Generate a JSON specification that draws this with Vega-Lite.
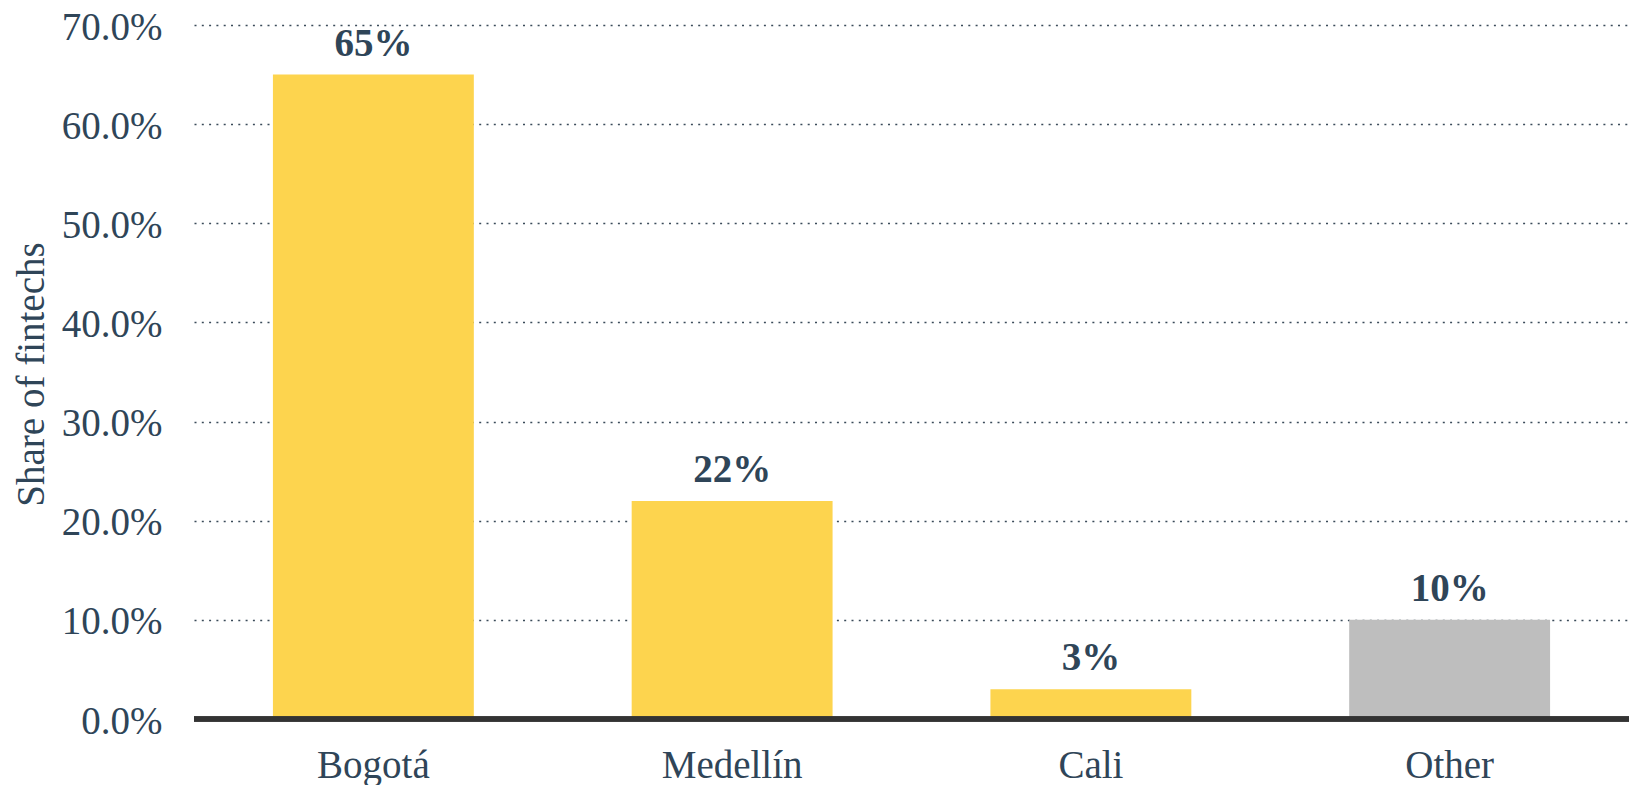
{
  "$schema": "https://vega.github.io/schema/vega-lite/v6.json",
  "autosize": {"type": "none"},
  "padding": {"left": 194, "top": 25, "right": 0, "bottom": 66},
  "width": 1435,
  "height": 694,
  "background": "#ffffff",
  "config": {
    "view": {"stroke": null},
    "font": "Liberation Serif"
  },
  "data": {
    "values": [
      {"city": "Bogotá", "share": 0.65, "group": "main"},
      {"city": "Medellín", "share": 0.22, "group": "main"},
      {"city": "Cali", "share": 0.03, "group": "main"},
      {"city": "Other", "share": 0.10, "group": "other"}
    ]
  },
  "encoding": {
    "x": {
      "field": "city",
      "type": "nominal",
      "sort": null,
      "scale": {"paddingInner": 0.44, "paddingOuter": 0.22},
      "axis": {
        "title": null,
        "labelAngle": 0,
        "labelFont": "Liberation Serif",
        "labelFontSize": 39,
        "labelColor": "#2f4558",
        "labelPadding": 27,
        "ticks": false,
        "domain": false,
        "grid": false
      }
    },
    "y": {
      "field": "share",
      "type": "quantitative",
      "scale": {"domain": [0, 0.7], "nice": false},
      "axis": {
        "title": "Share of fintechs",
        "titleFont": "Liberation Serif",
        "titleFontSize": 39,
        "titleFontWeight": "normal",
        "titleColor": "#2f4558",
        "titleAngle": -90,
        "titleX": -151,
        "titleY": 349,
        "titleAlign": "center",
        "titleBaseline": "alphabetic",
        "format": ".1%",
        "values": [0, 0.1, 0.2, 0.3, 0.4, 0.5, 0.6, 0.7],
        "labelFont": "Liberation Serif",
        "labelFontSize": 39,
        "labelColor": "#2f4558",
        "labelPadding": 32,
        "labelOffset": 2,
        "ticks": false,
        "domain": false,
        "grid": true,
        "gridColor": "#3b4b5a",
        "gridWidth": 1.5,
        "gridDash": [2, 5.3]
      }
    }
  },
  "layer": [
    {
      "mark": {"type": "bar"},
      "encoding": {
        "color": {
          "field": "group",
          "type": "nominal",
          "scale": {"domain": ["main", "other"], "range": ["#FDD44E", "#BEBEBE"]},
          "legend": null
        }
      }
    },
    {
      "mark": {
        "type": "text",
        "baseline": "alphabetic",
        "align": "center",
        "dy": -19,
        "font": "Liberation Serif",
        "fontSize": 39,
        "fontWeight": "bold",
        "color": "#2f4558"
      },
      "encoding": {
        "text": {"field": "share", "type": "quantitative", "format": ".0%"}
      }
    },
    {
      "mark": {"type": "rule", "color": "#333333", "strokeWidth": 5},
      "encoding": {
        "y": {"datum": 0},
        "x": {"value": 0},
        "x2": {"value": 1435}
      }
    }
  ]
}
